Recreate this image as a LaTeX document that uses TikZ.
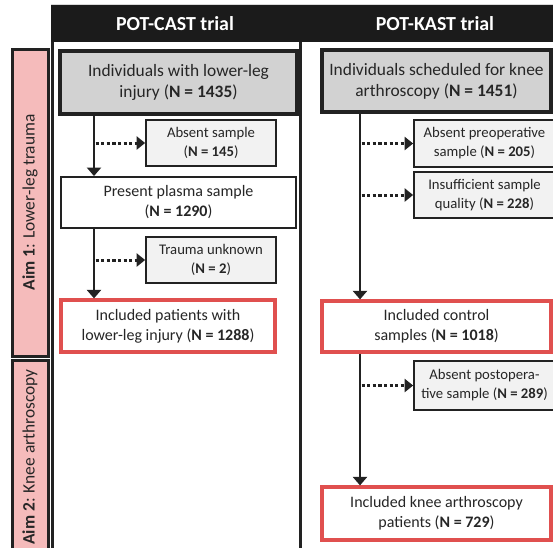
\documentclass[tikz,border=0pt]{standalone}
\usepackage{fontspec}
\setmainfont{Carlito}
\usetikzlibrary{arrows.meta,calc}
\definecolor{hdr}{HTML}{1B1B1B}
\definecolor{boxgray}{HTML}{D2D2D2}
\definecolor{smallgray}{HTML}{F2F2F2}
\definecolor{redb}{HTML}{E0504F}
\definecolor{pinkf}{HTML}{F5BBBB}
\definecolor{txt}{HTML}{262626}
\definecolor{edge}{HTML}{222222}
\tikzset{
  mainbox/.style={draw=edge,line width=3.2pt,fill=boxgray,inner sep=0pt,align=center,text=txt,font=\fontsize{17.4}{21}\selectfont},
  smallbox/.style={draw=edge,line width=1.7pt,fill=smallgray,inner sep=0pt,align=center,text=txt,font=\fontsize{14.7}{19}\selectfont},
  midbox/.style={draw=edge,line width=1.9pt,fill=white,inner sep=0pt,align=center,text=txt,font=\fontsize{16}{20}\selectfont},
  redbox/.style={draw=redb,line width=3.2pt,fill=white,inner sep=0pt,align=center,text=txt,font=\fontsize{16}{20}\selectfont},
  aimbox/.style={draw=edge,line width=3pt,fill=pinkf,inner sep=0pt,align=center,text=txt,rotate=90,font=\fontsize{17.4}{21}\selectfont},
  flow/.style={draw=edge,line width=2.8pt,-{Triangle[width=14pt,length=8.5pt]}},
  excl/.style={draw=edge,line width=3pt,dash pattern=on 3.2pt off 2.4pt,-{Triangle[width=13pt,length=8.5pt]}},
  hdrtext/.style={text=white,font=\fontsize{19.9}{24}\selectfont\bfseries,inner sep=0pt}
}
\begin{document}
\begin{tikzpicture}[x=1pt,y=-1pt]
\useasboundingbox (0,0) rectangle (553,547);
\clip (0,0) rectangle (553,547);
\fill[white] (0,0) rectangle (553,547);
% frame
\draw[line width=0.8pt,draw=black!15] (51,4) -- (560,4);
\fill[hdr] (51,5) rectangle (560,42);
\node[hdrtext] (h1) at (175,23.5) {POT-CAST trial};
\node[hdrtext] (h2) at (435,23.5) {POT-KAST trial};
\draw[line width=2.2pt,draw=edge] (52.5,42) -- (52.5,550);
\draw[line width=2.4pt,draw=edge] (300.5,42) -- (300.5,550);
% aim boxes
\node[aimbox,minimum width=307pt,minimum height=36pt] (aim1) at (30,202.5) {\textbf{Aim 1}: Lower-leg trauma};
\node[aimbox,minimum width=194pt,minimum height=36pt] (aim2) at (30,457) {\textbf{Aim 2}: Knee arthroscopy};
% left column
\node[mainbox,minimum width=237pt,minimum height=63pt] (g1) at (178.5,82.5) {Individuals with lower-leg\\injury (\textbf{N = 1435})};
\node[smallbox,minimum width=130pt,minimum height=46pt] (a1) at (211,143) {Absent sample\\(\textbf{N = 145})};
\node[midbox,minimum width=235pt,minimum height=51pt] (p1) at (178.5,202.5) {Present plasma sample\\(\textbf{N = 1290})};
\node[smallbox,minimum width=130pt,minimum height=46pt] (t1) at (211,260) {Trauma unknown\\(\textbf{N = 2})};
\node[redbox,minimum width=214pt,minimum height=52pt] (i1) at (168,326) {Included patients with\\lower-leg injury (\textbf{N = 1288})};
\coordinate (lx) at (94,0);
\draw[flow] (lx |- g1.south) -- (lx |- p1.north);
\draw[flow] (lx |- p1.south) -- (lx |- i1.north);
\draw[excl] ($(lx |- a1)+(1.5,0)$) -- (a1.west);
\draw[excl] ($(lx |- t1)+(1.5,0)$) -- (t1.west);
% right column
\node[mainbox,minimum width=229pt,minimum height=62pt] (g2) at (436.5,81) {Individuals scheduled for knee\\arthroscopy (\textbf{N = 1451})};
\node[smallbox,minimum width=141pt,minimum height=47pt] (a2) at (484.5,143.5) {Absent preoperative\\sample (\textbf{N = 205})};
\node[smallbox,minimum width=141pt,minimum height=46pt] (q2) at (484.5,195) {Insufficient sample\\quality (\textbf{N = 228})};
\node[redbox,minimum width=229pt,minimum height=51pt] (c2) at (436.5,326.5) {Included control\\samples (\textbf{N = 1018})};
\node[smallbox,minimum width=141pt,minimum height=49pt] (ap) at (484.5,385.5) {Absent postopera-\\tive sample (\textbf{N = 289})};
\node[redbox,minimum width=229pt,minimum height=53pt] (k2) at (436.5,513.5) {Included knee arthroscopy\\patients (\textbf{N = 729})};
\coordinate (rx) at (360,0);
\draw[flow] (rx |- g2.south) -- (rx |- c2.north);
\draw[flow] (rx |- c2.south) -- (rx |- k2.north);
\draw[excl] ($(rx |- a2)+(1.5,0)$) -- (a2.west);
\draw[excl] ($(rx |- q2)+(1.5,0)$) -- (q2.west);
\draw[excl] ($(rx |- ap)+(1.5,0)$) -- (ap.west);
\end{tikzpicture}
\end{document}
